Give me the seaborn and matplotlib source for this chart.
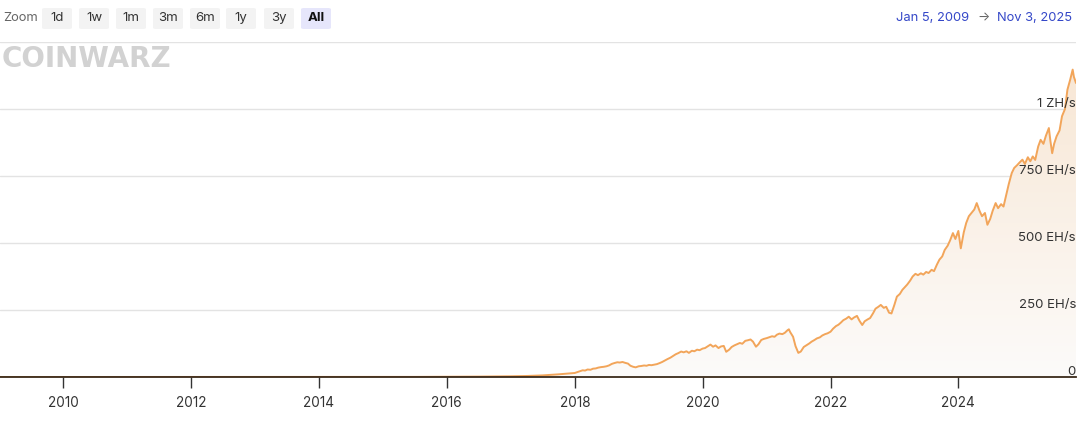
import pandas as pd
import numpy as np
import matplotlib
matplotlib.use("Agg")
import matplotlib.pyplot as plt
import matplotlib.dates as mdates
import matplotlib.transforms as mtransforms
from matplotlib.patches import FancyBboxPatch
from matplotlib.ticker import FixedLocator, FixedFormatter
import seaborn as sns

# hash rate (EH/s)
dates = [
    "2009-01-05", "2010-01-01", "2011-01-01", "2012-01-01", "2013-01-01",
    "2014-01-01", "2014-07-01", "2015-01-01", "2015-07-01", "2016-01-01",
    "2016-07-01", "2017-01-01", "2017-04-01", "2017-07-01", "2017-10-01",
    "2018-01-01", "2018-01-15", "2018-02-01", "2018-02-15", "2018-03-01",
    "2018-03-15", "2018-04-01", "2018-04-15", "2018-05-01", "2018-05-15",
    "2018-06-01", "2018-06-15", "2018-07-01", "2018-07-15", "2018-08-01",
    "2018-08-15", "2018-09-01", "2018-09-15", "2018-10-01", "2018-10-15",
    "2018-11-01", "2018-11-15", "2018-12-01", "2018-12-15",
    "2019-01-01", "2019-01-15", "2019-02-01", "2019-02-15", "2019-03-01",
    "2019-03-15", "2019-04-01", "2019-04-15", "2019-05-01", "2019-05-15",
    "2019-06-01", "2019-06-15", "2019-07-01", "2019-07-15", "2019-08-01",
    "2019-08-15", "2019-09-01", "2019-09-15", "2019-10-01", "2019-10-15",
    "2019-11-01", "2019-11-15", "2019-12-01", "2019-12-15",
    "2020-01-01", "2020-01-15", "2020-02-01", "2020-02-15", "2020-03-01",
    "2020-03-15", "2020-04-01", "2020-04-15", "2020-05-01", "2020-05-15",
    "2020-06-01", "2020-06-15", "2020-07-01", "2020-07-15", "2020-08-01",
    "2020-08-15", "2020-09-01", "2020-09-15", "2020-10-01", "2020-10-15",
    "2020-11-01", "2020-11-15", "2020-12-01", "2020-12-15",
    "2021-01-01", "2021-01-15", "2021-02-01", "2021-02-15", "2021-03-01",
    "2021-03-15", "2021-04-01", "2021-04-15", "2021-05-01", "2021-05-08",
    "2021-05-15", "2021-06-01", "2021-06-15", "2021-07-01", "2021-07-15",
    "2021-08-01", "2021-08-15", "2021-09-01", "2021-09-15", "2021-10-01",
    "2021-10-15", "2021-11-01", "2021-11-15", "2021-12-01", "2021-12-15",
    "2022-01-01", "2022-01-15", "2022-02-01", "2022-02-15", "2022-03-01",
    "2022-03-15", "2022-04-01", "2022-04-15", "2022-05-01", "2022-05-15",
    "2022-06-01", "2022-06-15", "2022-07-01", "2022-07-15", "2022-08-01",
    "2022-08-15", "2022-09-01", "2022-09-15", "2022-10-01", "2022-10-15",
    "2022-11-01", "2022-11-15", "2022-12-01", "2022-12-15",
    "2023-01-01", "2023-01-15", "2023-02-01", "2023-02-15", "2023-03-01",
    "2023-03-15", "2023-04-01", "2023-04-15", "2023-05-01", "2023-05-15",
    "2023-06-01", "2023-06-15", "2023-07-01", "2023-07-15", "2023-08-01",
    "2023-08-15", "2023-09-01", "2023-09-15", "2023-10-01", "2023-10-15",
    "2023-11-01", "2023-11-15", "2023-12-01", "2023-12-15",
    "2024-01-01", "2024-01-15", "2024-02-01", "2024-02-15", "2024-03-01",
    "2024-03-15", "2024-04-01", "2024-04-15", "2024-05-01", "2024-05-15",
    "2024-06-01", "2024-06-15", "2024-07-01", "2024-07-15", "2024-08-01",
    "2024-08-15", "2024-09-01", "2024-09-15", "2024-10-01", "2024-10-15",
    "2024-11-01", "2024-11-15", "2024-12-01", "2024-12-15",
    "2025-01-01", "2025-01-15", "2025-02-01", "2025-02-15", "2025-03-01",
    "2025-03-15", "2025-04-01", "2025-04-15", "2025-05-01", "2025-05-15",
    "2025-06-01", "2025-06-10", "2025-06-20", "2025-07-01", "2025-07-15",
    "2025-08-01", "2025-08-15", "2025-09-01", "2025-09-15", "2025-10-01",
    "2025-10-15", "2025-10-22", "2025-11-03",
]
hashrate = [
    0, 0, 0, 0, 0,
    0.01, 0.13, 0.3, 0.4, 0.9,
    1.5, 2.7, 3.8, 6, 10,
    15, 18, 22, 25, 24,
    28, 27, 31, 32, 35,
    37, 38, 40, 43, 49,
    52, 55, 54, 56, 53,
    50, 42, 38, 36,
    40, 41, 43, 42, 45,
    44, 46, 48, 52, 56,
    62, 67, 72, 78, 85,
    89, 95, 92, 96, 90,
    98, 96, 102, 100,
    106, 108, 115, 121, 113,
    118, 108, 114, 116, 94,
    102, 112, 118, 122, 127,
    124, 135, 137, 140, 132,
    113, 122, 138, 142,
    145, 148, 152, 150, 158,
    162, 160, 165, 175, 178,
    168, 150, 115, 90, 95,
    112, 118, 125, 132, 138,
    144, 148, 155, 160, 163,
    169, 180, 190, 195, 203,
    212, 218, 225, 215, 222,
    228, 210, 194, 208, 215,
    220, 238, 255, 262, 269,
    258, 262, 240, 237,
    270, 300, 310, 325, 335,
    345, 360, 375, 385, 380,
    387, 382, 392, 388, 400,
    395, 420, 438, 450, 474,
    490, 510, 537, 515,
    545, 480, 540, 575, 600,
    611, 625, 649, 620, 600,
    612, 568, 590, 620, 649,
    630, 645, 636, 680, 720,
    761, 780, 790, 800,
    811, 795, 820, 805, 823,
    810, 860, 885, 870, 900,
    929, 880, 835, 870, 898,
    920, 973, 1000, 1072, 1110,
    1147, 1120, 1097,
]

tick_years = [2010, 2012, 2014, 2016, 2018, 2020, 2022, 2024]
y_ticks = [0, 250, 500, 750, 1000, 1250]
y_labels = ["0", "250 EH/s", "500 EH/s", "750 EH/s", "1 ZH/s", ""]
zoom_buttons = ["1d", "1w", "1m", "3m", "6m", "1y", "3y", "All"]

df = pd.DataFrame({"date": pd.to_datetime(dates), "hashrate": hashrate})

sns.set_style("white")
plt.rcParams["font.family"] = ["Inter", "DejaVu Sans"]

W, H = 1082, 423
fig = plt.figure(figsize=(W / 100, H / 100), dpi=100)
ax = fig.add_axes([0, (H - 377) / H, 1076 / W, (377 - 42) / H])

line_color = "#f2a55a"

# gradient fill under the curve
poly = ax.fill_between(df["date"], df["hashrate"], 0, color="none", lw=0)
x0 = mdates.date2num(pd.Timestamp("2009-01-05"))
x1 = mdates.date2num(pd.Timestamp("2025-11-03"))
grad = np.linspace(0, 1, 256).reshape(-1, 1)
top = np.array([248, 231, 213]) / 255
bot = np.array([252, 251, 250]) / 255
img = (bot + (top - bot) * grad).reshape(256, 1, 3)
im = ax.imshow(img, extent=[x0, x1, 0, 1150], origin="lower", aspect="auto", zorder=1)
im.set_clip_path(poly.get_paths()[0], transform=ax.transData)

sns.lineplot(data=df, x="date", y="hashrate", ax=ax, color=line_color, lw=1.4, zorder=3)

ax.set_xlim(pd.Timestamp("2009-01-05"), pd.Timestamp("2025-11-03"))
ax.set_ylim(0, 1250)
ax.set_xlabel("")
ax.set_ylabel("")

ax.xaxis.set_major_locator(FixedLocator([mdates.date2num(pd.Timestamp(f"{y}-01-01")) for y in tick_years]))
ax.xaxis.set_major_formatter(FixedFormatter([str(y) for y in tick_years]))
ax.tick_params(axis="x", length=8, width=1, color="#333333", labelsize=9.8,
               labelcolor="#333333", pad=6, bottom=True)

# y labels sit inside the plot, right-aligned just above each gridline
ax.set_yticks(y_ticks)
ax.set_yticklabels([])
ax.tick_params(axis="y", length=0, left=False, right=False)
trans = mtransforms.blended_transform_factory(ax.transAxes, ax.transData)
off = mtransforms.ScaledTranslation(0, -1 / 100, fig.dpi_scale_trans)
for v, lbl in zip(y_ticks, y_labels):
    if lbl:
        ax.text(1.0, v, lbl, transform=trans + off, ha="right", va="bottom",
                fontsize=9.5, color="#333333", zorder=5)
ax.grid(axis="y", color="#e3e3e3", lw=1)
ax.grid(axis="x", visible=False)

for s in ["top", "left", "right"]:
    ax.spines[s].set_visible(False)
ax.spines["bottom"].set_color("#3a2a1a")
ax.spines["bottom"].set_linewidth(1.3)
ax.spines["bottom"].set_zorder(4)

# header: zoom buttons
fig.text(3 / W, 1 - 18 / H, "Zoom", fontsize=9.3, color="#666666", ha="left", va="center")
centers = [57, 94, 131, 168, 205, 241, 279, 316]
for lbl, cx in zip(zoom_buttons, centers):
    sel = lbl == "All"
    fig.patches.append(FancyBboxPatch(((cx - 15) / W, 1 - 29 / H), 30 / W, 21 / H,
                                      boxstyle="round,pad=0,rounding_size=0.003",
                                      transform=fig.transFigure,
                                      fc="#e6e6fb" if sel else "#f3f3f3", ec="none"))
    fig.text(cx / W, 1 - 18 / H, lbl, fontsize=9.5, ha="center", va="center",
             color="#111111" if sel else "#333333", fontweight="bold" if sel else "normal")

# date range
fig.text(969 / W, 1 - 18 / H, "Jan 5, 2009", fontsize=9.3, color="#3447c8", ha="right", va="center")
fig.text(984 / W, 1 - 18 / H, "→", fontsize=9.3, color="#666666", ha="center", va="center")
fig.text(1072 / W, 1 - 18 / H, "Nov 3, 2025", fontsize=9.3, color="#3447c8", ha="right", va="center")

# watermark
fig.text(2 / W, 1 - 59 / H, "COINWARZ", fontsize=20, fontweight="heavy", color="#d2d2d2",
         ha="left", va="center", family=["DejaVu Sans"])

fig.savefig("out.png", dpi=100, facecolor="white")
plt.close(fig)
